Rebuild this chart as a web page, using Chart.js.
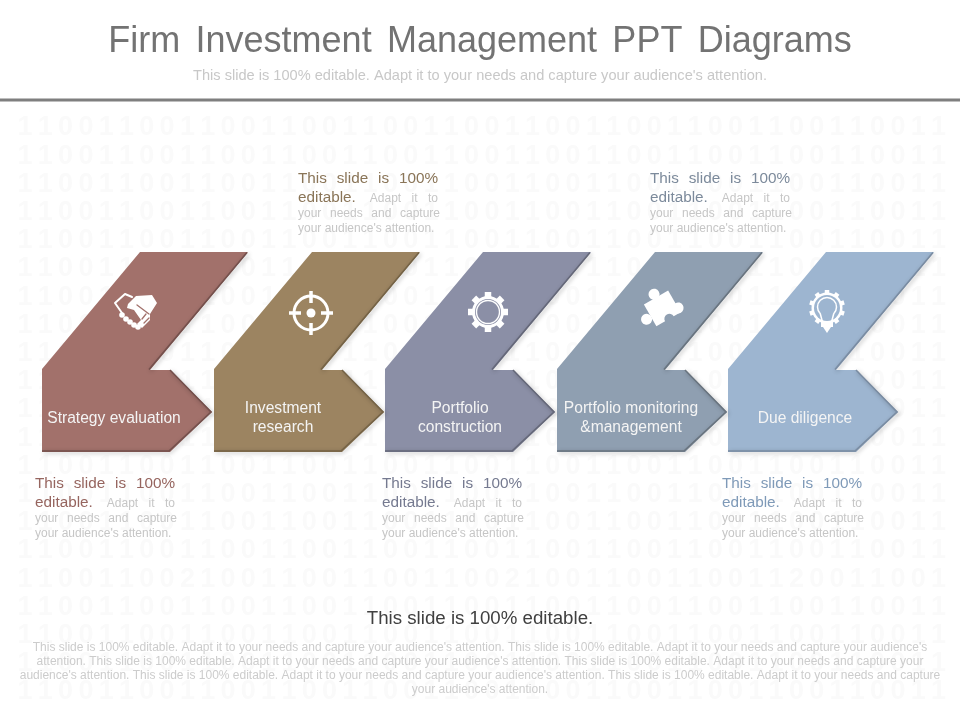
<!DOCTYPE html>
<html>
<head>
<meta charset="utf-8">
<title>Firm Investment Management PPT Diagrams</title>
<script src="https://cdn.jsdelivr.net/npm/chart.js@4/dist/chart.umd.min.js"></script>
<style>
  html, body { margin: 0; padding: 0; background: #fff; }
  canvas { display: block; }
</style>
</head>
<body>
<canvas id="slide" width="960" height="720"></canvas>
<script>
// slide text
var slideTitle = "Firm Investment Management PPT Diagrams";
var slideSubtitle = "This slide is 100% editable. Adapt it to your needs and capture your audience's attention.";
var stepLabels = [
    ["Strategy evaluation"],
    ["Investment", "research"],
    ["Portfolio", "construction"],
    ["Portfolio monitoring", "&management"],
    ["Due diligence"]
];
var noteHead = ["This slide is 100%", "editable."];
var noteBody = ["Adapt it to", "your needs and capture", "your audience's attention."];
var footerHead = "This slide is 100% editable.";
var footerLines = [
    "This slide is 100% editable. Adapt it to your needs and capture your audience's attention. This slide is 100% editable. Adapt it to your needs and capture your audience's",
    "attention. This slide is 100% editable. Adapt it to your needs and capture your audience's attention. This slide is 100% editable. Adapt it to your needs and capture your",
    "audience's attention. This slide is 100% editable. Adapt it to your needs and capture your audience's attention. This slide is 100% editable. Adapt it to your needs and capture",
    "your audience's attention."
];
var binaryRow = "1100110011001100110011001100110011001100110011";
var binaryRowOdd = "1100110021001100110011002100110011001120011001";

// chevron outline, first step, on the slide axes
var chevronX = [140, 248, 150, 170, 212, 170, 42, 42];
var chevronY = [252, 252, 370, 370, 412, 452, 452, 369];
var stepOffset = [0, 172, 343, 515, 686];
var iconX = [135, 311, 488, 662, 827];
var iconY = [312, 313, 312, 308, 311];

var stepColors = ["#a2716b", "#9c8461", "#8b8fa6", "#8f9fb1", "#9db5d0"];
var edgeColors = ["#74504c", "#756346", "#656879", "#69747f", "#7a8ca2"];
var headColors = ["#96655f", "#8a7558", "#757a90", "#7c8a9b", "#7f9ab8"];

function makeIcon(draw) {
    var c = document.createElement("canvas");
    c.width = 56;
    c.height = 56;
    var g = c.getContext("2d");
    g.translate(28, 28);
    g.fillStyle = "#fff";
    g.strokeStyle = "#fff";
    g.lineJoin = "round";
    g.lineCap = "round";
    draw(g);
    return c;
}

function gearShape(g, teeth, r, toothW, toothH) {
    g.beginPath();
    g.arc(0, 0, r, 0, Math.PI * 2);
    g.fill();
    for (var i = 0; i < teeth; i++) {
        g.save();
        g.rotate(i * Math.PI * 2 / teeth);
        g.fillRect(-toothW / 2, -r - toothH, toothW, toothH + 2);
        g.restore();
    }
}

function punch(g, x, y, r) {
    g.save();
    g.globalCompositeOperation = "destination-out";
    g.beginPath();
    g.arc(x, y, r, 0, Math.PI * 2);
    g.fill();
    g.restore();
}

var iconHandshake = makeIcon(function(g) {
    // left hand, outline only
    g.lineWidth = 2;
    g.beginPath();
    g.moveTo(-3, -15);
    g.lineTo(-10, -18);
    g.lineTo(-20, -9);
    g.lineTo(-13, 1);
    g.stroke();
    // right hand and fingers
    g.beginPath();
    g.moveTo(-7, -8);
    g.lineTo(1, -16);
    g.lineTo(17, -17);
    g.lineTo(22, -9);
    g.lineTo(15, 2);
    g.lineTo(15, 8);
    g.lineTo(7, 16);
    g.lineTo(2, 12);
    g.lineTo(6, 8);
    g.lineTo(-1, -2);
    g.lineTo(-8, -4);
    g.closePath();
    g.fill();
    g.save();
    g.globalCompositeOperation = "destination-out";
    g.lineWidth = 1.3;
    g.beginPath();
    g.moveTo(11, 2); g.lineTo(7, 7);
    g.moveTo(14, 6); g.lineTo(9, 11);
    g.moveTo(2, -7); g.lineTo(14, 2);
    g.stroke();
    g.restore();
    // beads along the wrist
    var beadX = [-13, -9, -5, -1, 3];
    var beadY = [3, 7, 10, 13, 15];
    for (var i = 0; i < beadX.length; i++) {
        g.beginPath();
        g.arc(beadX[i], beadY[i], 2.8, 0, Math.PI * 2);
        g.fill();
    }
});

var iconTarget = makeIcon(function(g) {
    g.lineWidth = 3;
    g.beginPath();
    g.arc(0, 0, 17, 0, Math.PI * 2);
    g.stroke();
    g.lineWidth = 3.5;
    g.lineCap = "butt";
    g.beginPath();
    g.moveTo(-22, 0); g.lineTo(-10, 0);
    g.moveTo(10, 0); g.lineTo(22, 0);
    g.moveTo(0, -22); g.lineTo(0, -10);
    g.moveTo(0, 10); g.lineTo(0, 22);
    g.stroke();
    g.beginPath();
    g.arc(0, 0, 4.5, 0, Math.PI * 2);
    g.fill();
});

var iconGear = makeIcon(function(g) {
    gearShape(g, 8, 16, 6.5, 4);
    punch(g, 0, 0, 13);
    g.lineWidth = 1.4;
    g.beginPath();
    g.arc(0, 0, 11.5, 0, Math.PI * 2);
    g.stroke();
});

var iconPuzzle = makeIcon(function(g) {
    g.rotate(-Math.PI / 6);
    g.fillRect(-14, -12, 28, 25);
    g.beginPath(); g.arc(0, -16, 5.5, 0, Math.PI * 2); g.fill();
    g.beginPath(); g.arc(-19, 2, 5.5, 0, Math.PI * 2); g.fill();
    g.beginPath(); g.arc(14, 8, 5.5, 0, Math.PI * 2); g.fill();
    punch(g, 1, 13, 5);
});

var iconBulb = makeIcon(function(g) {
    g.translate(0, -3);
    gearShape(g, 10, 15.5, 4.5, 2.5);
    punch(g, 0, 0, 13);
    g.lineWidth = 1.5;
    g.beginPath();
    g.arc(0, -1, 9.5, Math.PI * 0.75, Math.PI * 0.25);
    g.lineTo(4, 16);
    g.lineTo(-4, 16);
    g.closePath();
    g.stroke();
    g.fillRect(-6, 14, 12, 5);
    g.beginPath();
    g.moveTo(-4, 19);
    g.lineTo(0, 25);
    g.lineTo(4, 19);
    g.closePath();
    g.fill();
});

var icons = [iconHandshake, iconTarget, iconGear, iconPuzzle, iconBulb];

function shiftedOutline(step) {
    var pts = [];
    for (var i = 0; i < chevronX.length; i++) {
        pts.push({x: chevronX[i] + stepOffset[step], y: chevronY[i]});
    }
    return pts;
}

// darker lower right edges, moved 1px inside the shape
function shiftedEdge(step) {
    var o = stepOffset[step];
    return [
        {x: chevronX[1] + o - 1, y: chevronY[1] + 0.5},
        {x: chevronX[2] + o - 1, y: chevronY[2] - 0.5},
        {x: chevronX[2] + o, y: null},
        {x: chevronX[3] + o, y: chevronY[3]},
        {x: chevronX[4] + o - 1, y: chevronY[4]},
        {x: chevronX[5] + o - 1, y: chevronY[5] - 1},
        {x: chevronX[6] + o, y: chevronY[6] - 1}
    ];
}

var datasets = [];
datasets.push({
    data: [{x: 0, y: 100}, {x: 960, y: 100}],
    showLine: true,
    borderColor: "#7f7f7f",
    borderWidth: 3,
    pointRadius: 0,
    order: 30
});
for (var s = 0; s < stepLabels.length; s++) {
    datasets.push({
        data: shiftedEdge(s),
        showLine: true,
        spanGaps: false,
        borderColor: edgeColors[s],
        borderWidth: 1.6,
        pointRadius: 0,
        order: 10,
        edgeShadow: true
    });
    datasets.push({
        data: shiftedOutline(s),
        showLine: true,
        fill: "shape",
        backgroundColor: stepColors[s],
        borderWidth: 0,
        pointRadius: 0,
        order: 20
    });
}
datasets.push({
    data: iconX.map(function(x, i) { return {x: x, y: iconY[i]}; }),
    showLine: false,
    pointStyle: icons,
    pointRadius: 28,
    order: 1
});

function justified(ctx, words, x, right, y) {
    var used = 0;
    words.forEach(function(w) { used += ctx.measureText(w).width; });
    var gap = (right - x - used) / (words.length - 1);
    var pos = x;
    words.forEach(function(w) {
        ctx.fillText(w, pos, y);
        pos += ctx.measureText(w).width + gap;
    });
}

// side notes: left edge, centre of first line, colour
function drawNote(ctx, left, top, color) {
    var right = left + 140;
    ctx.textAlign = "left";
    ctx.textBaseline = "middle";
    ctx.font = "15.3px 'Liberation Sans'";
    ctx.fillStyle = color;
    justified(ctx, noteHead[0].split(" "), left, right, top);
    ctx.fillText(noteHead[1], left, top + 19);
    var headW = ctx.measureText(noteHead[1]).width;
    ctx.font = "12px 'Liberation Sans'";
    ctx.fillStyle = "#c6c6c6";
    justified(ctx, noteBody[0].split(" "), left + headW + 14, right, top + 20);
    justified(ctx, noteBody[1].split(" "), left, right + 2, top + 35);
    ctx.fillText(noteBody[2], left, top + 50);
}

var slideDecor = {
    id: "slideDecor",
    beforeDatasetsDraw: function(chart) {
        var ctx = chart.ctx;
        ctx.save();
        ctx.font = "bold 27px 'Liberation Sans'";
        ctx.fillStyle = "#fafafa";
        ctx.textAlign = "center";
        ctx.textBaseline = "middle";
        for (var r = 0; r < 21; r++) {
            var row = r === 16 ? binaryRowOdd : binaryRow;
            for (var c = 0; c < row.length; c++) {
                ctx.fillText(row[c], 25 + c * 20.3, 128 + r * 28.2);
            }
        }
        ctx.restore();
    },
    beforeDatasetDraw: function(chart, args) {
        if (args.meta.controller.getDataset().edgeShadow) {
            var ctx = chart.ctx;
            ctx.save();
            ctx.shadowColor = "rgba(0,0,0,0.35)";
            ctx.shadowBlur = 4;
            ctx.shadowOffsetX = 1.5;
            ctx.shadowOffsetY = 1.5;
        }
    },
    afterDatasetDraw: function(chart, args) {
        if (args.meta.controller.getDataset().edgeShadow) {
            chart.ctx.restore();
        }
    },
    afterDatasetsDraw: function(chart) {
        var ctx = chart.ctx;
        ctx.save();
        ctx.textBaseline = "middle";
        ctx.textAlign = "center";

        ctx.font = "36px 'Liberation Sans'";
        ctx.fillStyle = "#737373";
        ctx.wordSpacing = "5.3px";
        ctx.fillText(slideTitle, 480, 42);
        ctx.wordSpacing = "0px";

        ctx.font = "14.6px 'Liberation Sans'";
        ctx.fillStyle = "#c8c8c8";
        ctx.fillText(slideSubtitle, 480, 76);

        var labelCenters = [114, 283, 460, 631, 805];
        ctx.font = "15.6px 'Liberation Sans'";
        ctx.fillStyle = "#f4f4f4";
        stepLabels.forEach(function(lines, i) {
            if (lines.length === 1) {
                ctx.fillText(lines[0], labelCenters[i], 419);
            } else {
                ctx.fillText(lines[0], labelCenters[i], 409);
                ctx.fillText(lines[1], labelCenters[i], 428);
            }
        });

        drawNote(ctx, 298, 179, headColors[1]);
        drawNote(ctx, 650, 179, headColors[3]);
        drawNote(ctx, 35, 484, headColors[0]);
        drawNote(ctx, 382, 484, headColors[2]);
        drawNote(ctx, 722, 484, headColors[4]);

        ctx.textAlign = "center";
        ctx.font = "18.7px 'Liberation Sans'";
        ctx.fillStyle = "#404040";
        ctx.fillText(footerHead, 480, 619);

        ctx.font = "12px 'Liberation Sans'";
        ctx.fillStyle = "#cccccc";
        footerLines.forEach(function(line, i) {
            ctx.fillText(line, 480, 648 + i * 14);
        });
        ctx.restore();
    }
};

var chart = new Chart(document.getElementById("slide"), {
    type: "scatter",
    data: {datasets: datasets},
    options: {
        responsive: false,
        animation: false,
        layout: {padding: 0, autoPadding: false},
        plugins: {legend: {display: false}, tooltip: {enabled: false}, title: {display: false}},
        scales: {
            x: {type: "linear", display: false, min: 0, max: 960},
            y: {type: "linear", display: false, min: 0, max: 720, reverse: true}
        }
    },
    plugins: [slideDecor]
});
</script>
</body>
</html>
